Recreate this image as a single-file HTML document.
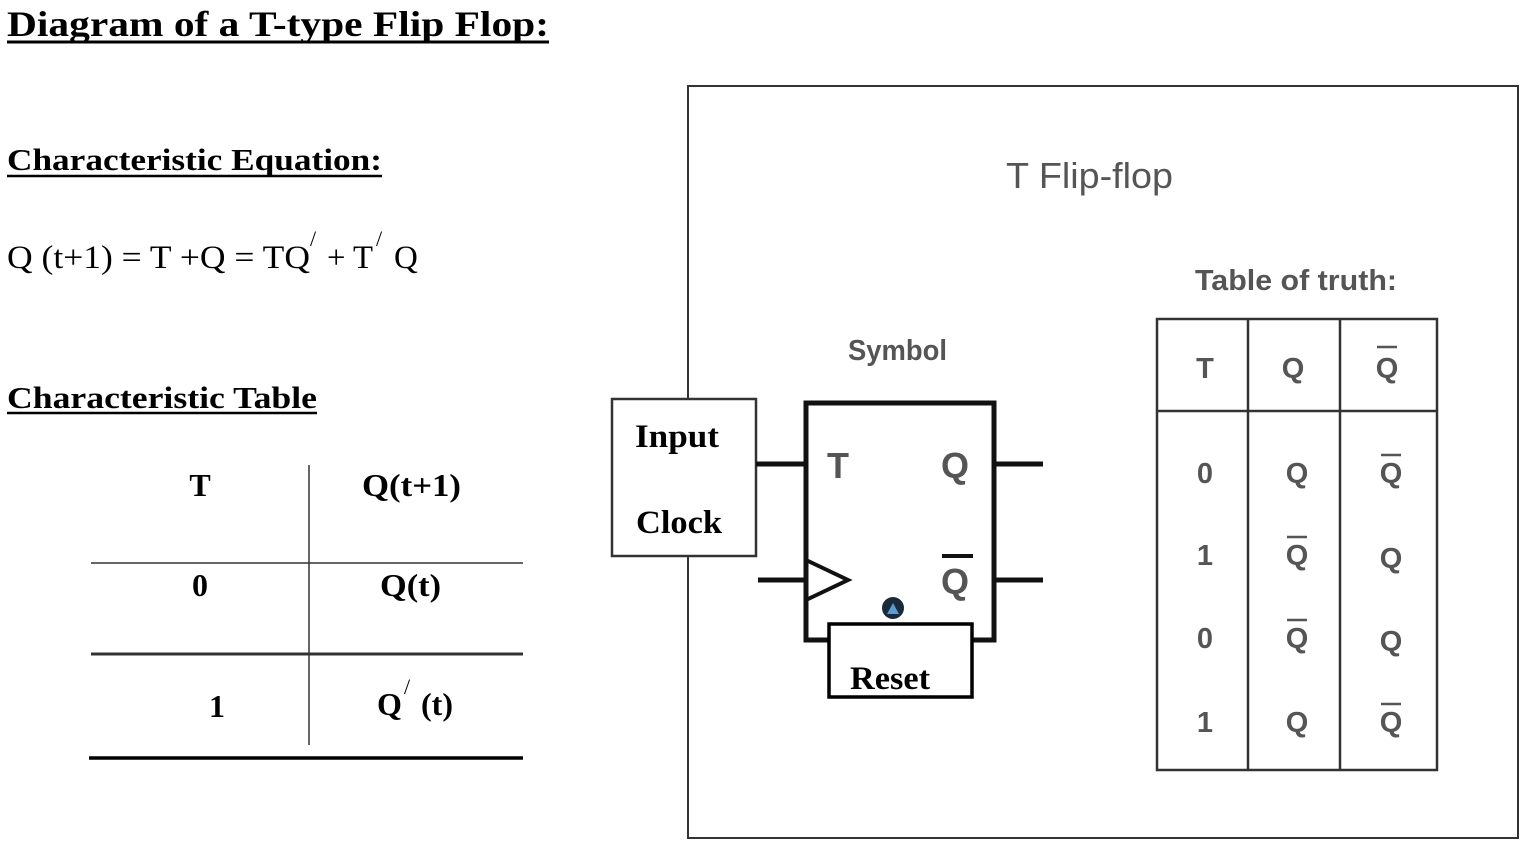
<!DOCTYPE html>
<html><head><style>
body{margin:0;background:#fff;}
svg{display:block}
.s{font-family:"Liberation Serif",serif;}
.a{font-family:"Liberation Sans",sans-serif;fill:#555;}
</style></head><body>
<svg width="1528" height="847" viewBox="0 0 1528 847">
<g class="s" font-weight="bold" fill="#000">
<text x="7" y="36" font-size="36" textLength="542" lengthAdjust="spacingAndGlyphs">Diagram of a T-type Flip Flop:</text>
<line x1="7" y1="42" x2="549" y2="42" stroke="#000" stroke-width="3"/>
<text x="7" y="170" font-size="31" textLength="375" lengthAdjust="spacingAndGlyphs">Characteristic Equation:</text>
<line x1="7" y1="176" x2="382" y2="176" stroke="#000" stroke-width="2.5"/>
<text x="7" y="408" font-size="31" textLength="310" lengthAdjust="spacingAndGlyphs">Characteristic Table</text>
<line x1="7" y1="413" x2="317" y2="413" stroke="#000" stroke-width="2.5"/>
<text x="200" y="496" font-size="32" text-anchor="middle">T</text>
<text x="362" y="496" font-size="32" textLength="99" lengthAdjust="spacingAndGlyphs">Q(t+1)</text>
<text x="200" y="596" font-size="32" text-anchor="middle">0</text>
<text x="380" y="596" font-size="32" textLength="61" lengthAdjust="spacingAndGlyphs">Q(t)</text>
<text x="217" y="717" font-size="32" text-anchor="middle">1</text>
<text x="377" y="715" font-size="32">Q</text><text x="404" y="694" font-size="22" font-weight="normal">/</text><text x="421" y="715" font-size="32">(t)</text>
</g>
<g class="s" font-size="33" fill="#000">
<text x="7" y="268" textLength="303" lengthAdjust="spacingAndGlyphs">Q (t+1) = T +Q = TQ</text>
<text x="310" y="246" font-size="22">/</text>
<text x="327" y="268" textLength="46" lengthAdjust="spacingAndGlyphs">+ T</text>
<text x="376" y="246" font-size="22">/</text>
<text x="394" y="268">Q</text>
</g>
<g stroke="#333">
<line x1="309" y1="465" x2="309" y2="745" stroke-width="1.5"/>
<line x1="91" y1="563" x2="523" y2="563" stroke-width="1.5"/>
<line x1="91" y1="654" x2="523" y2="654" stroke-width="3"/>
<line x1="89" y1="758" x2="523" y2="758" stroke-width="3.5" stroke="#000"/>
</g>
<rect x="688" y="86" width="830" height="752" fill="none" stroke="#333" stroke-width="2"/>
<text class="a" x="1006" y="188" font-size="36" textLength="167" lengthAdjust="spacingAndGlyphs">T Flip-flop</text>
<text class="a" x="1195" y="290" font-size="29" font-weight="bold" textLength="202" lengthAdjust="spacingAndGlyphs">Table of truth:</text>
<text class="a" x="848" y="360" font-size="29" font-weight="bold" textLength="99" lengthAdjust="spacingAndGlyphs">Symbol</text>
<rect x="612" y="399" width="144" height="157" fill="#fff" stroke="#333" stroke-width="2.5"/>
<g class="s" font-weight="bold" font-size="33" fill="#000">
<text x="635" y="447" textLength="84" lengthAdjust="spacingAndGlyphs">Input</text>
<text x="636" y="533" textLength="86" lengthAdjust="spacingAndGlyphs">Clock</text>
</g>
<g stroke="#111" stroke-width="5" fill="none">
<rect x="806" y="403" width="188" height="237"/>
<line x1="756" y1="464" x2="806" y2="464"/>
<line x1="758" y1="580" x2="806" y2="580"/>
<polyline points="806,560 848,580 806,600" stroke-width="4"/>
<line x1="994" y1="464" x2="1043" y2="464"/>
<line x1="994" y1="580" x2="1043" y2="580"/>
<line x1="942" y1="556" x2="973" y2="556" stroke-width="4"/>
</g>
<text class="a" x="827" y="478" font-size="36" font-weight="bold">T</text>
<text class="a" x="941" y="478" font-size="36" font-weight="bold">Q</text>
<text class="a" x="941" y="594" font-size="36" font-weight="bold">Q</text>
<circle cx="893" cy="608" r="11" fill="#1a2a3a"/>
<path d="M887,614 L893,603 L899,614Z" fill="#5b9bd5"/>
<rect x="829" y="624" width="143" height="73" fill="#fff" stroke="#000" stroke-width="3.5"/>
<text class="s" x="850" y="689" font-size="33" font-weight="bold" textLength="80" lengthAdjust="spacingAndGlyphs">Reset</text>
<g stroke="#333" stroke-width="2.5" fill="none">
<rect x="1157" y="319" width="280" height="451"/>
<line x1="1157" y1="411" x2="1437" y2="411"/>
<line x1="1248" y1="319" x2="1248" y2="770"/>
<line x1="1340" y1="319" x2="1340" y2="770"/>
</g>
<g class="a" font-size="29" font-weight="bold" text-anchor="middle">
<text x="1205" y="378">T</text><text x="1293" y="378">Q</text><text x="1387" y="378">Q</text>
<text x="1205" y="483">0</text><text x="1297" y="483">Q</text><text x="1391" y="483">Q</text>
<text x="1205" y="565">1</text><text x="1297" y="565">Q</text><text x="1391" y="568">Q</text>
<text x="1205" y="648">0</text><text x="1297" y="648">Q</text><text x="1391" y="651">Q</text>
<text x="1205" y="732">1</text><text x="1297" y="732">Q</text><text x="1391" y="732">Q</text>
</g>
<g stroke="#555" stroke-width="2.5">
<line x1="1377" y1="347" x2="1397" y2="347"/>
<line x1="1381" y1="455" x2="1401" y2="455"/>
<line x1="1287" y1="537" x2="1307" y2="537"/>
<line x1="1287" y1="620" x2="1307" y2="620"/>
<line x1="1381" y1="704" x2="1401" y2="704"/>
</g>
</svg>
</body></html>
